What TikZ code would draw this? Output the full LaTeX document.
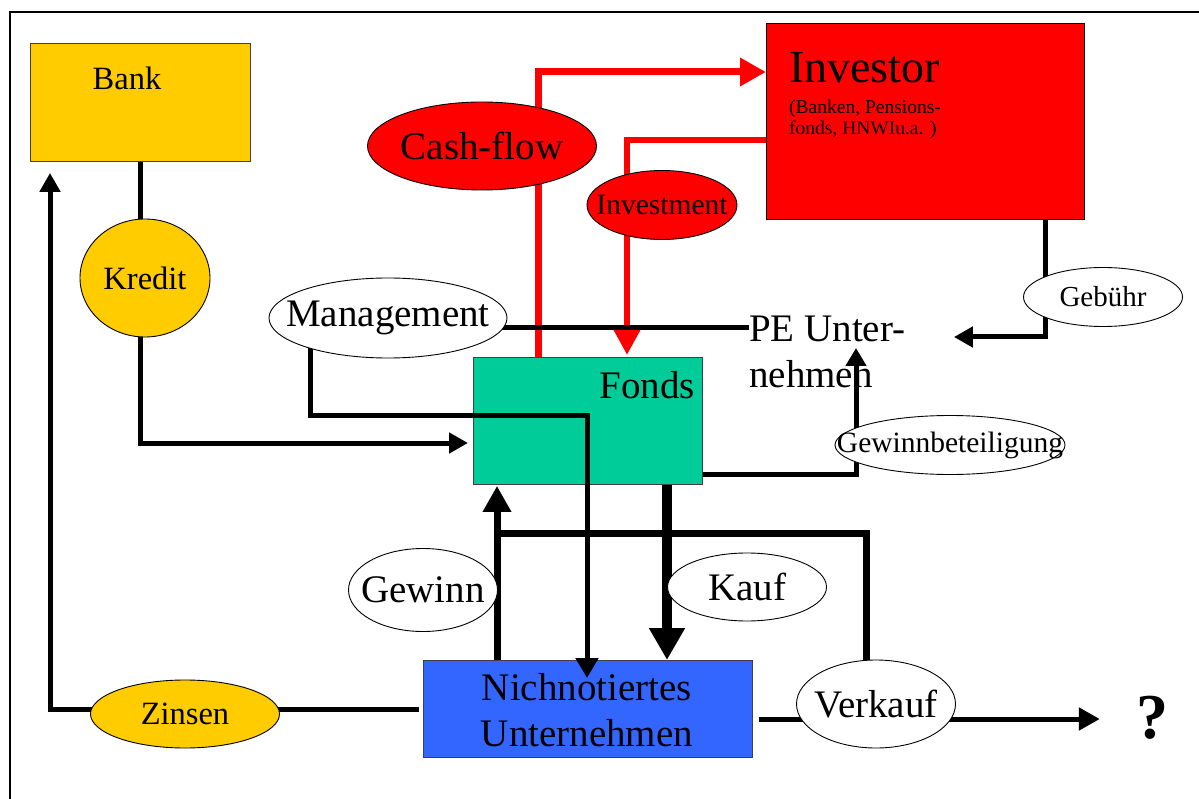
\documentclass[tikz,border=0pt]{standalone}
\usepackage{fontspec}
\setmainfont{Liberation Serif}
\usetikzlibrary{arrows.meta,shapes.geometric}

\definecolor{bankgold}{HTML}{FFCC00}
\definecolor{invred}{HTML}{FF0000}
\definecolor{fondsgreen}{HTML}{00CC99}
\definecolor{firmblue}{HTML}{3366FF}
\definecolor{pegreen}{HTML}{CCFFCC}

\pgfdeclarelayer{back}
\pgfdeclarelayer{lines}
\pgfdeclarelayer{front}
\pgfsetlayers{back,main,lines,front}

\newcommand{\fs}[1]{\fontsize{#1}{1.18\dimexpr#1pt\relax}\selectfont}

\tikzset{
  box/.style={draw=black!75, line width=0.9pt, inner sep=0pt, anchor=north west},
  oval/.style={ellipse, draw=black, line width=0.9pt, inner sep=0pt},
  lbl/.style={inner sep=0pt, font=\fs{39}},
  conn/.style={line width=5pt},
  heavy/.style={line width=7pt},
  money/.style={draw=invred, line width=7pt},
  tipS/.style={-{Triangle[length=19pt,width=20pt]}},
  tipR/.style={-{Triangle[length=26pt,width=27pt]}},
  tipL/.style={-{Triangle[length=32pt,width=34pt]}},
}

\begin{document}
\begin{tikzpicture}[x=1pt,y=-1pt]
\useasboundingbox (0,0) rectangle (1199,799);
\clip (0,0) rectangle (1199,799);
\fill[white] (0,0) rectangle (1199,799);

% outer frame (runs past the right and bottom edges)
\draw[line width=2pt] (10,830) -- (10,12) -- (1230,12);

% PE company area
\begin{pgfonlayer}{back}
  \node[box, draw=black!80, fill=pegreen, rounded corners=32pt,
        minimum width=725pt, minimum height=235pt] (pe) at (225,268) {};
\end{pgfonlayer}

% boxes
\node[box, fill=bankgold, minimum width=220pt, minimum height=118pt] (bank) at (30,43) {};
\node[lbl, font=\fs{32.5}, anchor=base] (banktext) at (127,90) {Bank};

\node[box, draw=black, fill=invred, minimum width=318pt, minimum height=196pt] (invest) at (766,23) {};
\node[lbl, font=\fs{46}, anchor=base west] (investtext) at (789,83) {Investor};
\node[lbl, font=\fs{19.5}, anchor=base west, align=left] (investsub) at (789,135)
  {(Banken, Pensions-\\[-1.5pt]fonds, HNWIu.a. )};

\node[box, fill=fondsgreen, minimum width=229pt, minimum height=127pt] (fonds) at (473,357) {};
\node[lbl, anchor=base east] (fondstext) at (695,399) {Fonds};

\node[box, fill=firmblue, minimum width=329pt, minimum height=97pt] (nich) at (423,660) {};
\node[lbl, align=center, anchor=base] (nichtext) at (587,746) {Nichnotiertes\\[-1pt]Unternehmen};

\node[lbl, align=left, anchor=base west] (petext) at (749,387) {PE Unter-\\[-0.5pt]nehmen};

\node[inner sep=0pt, font=\fs{64}\bfseries, anchor=base] (qmark) at (1152,738) {?};

% labels on the flows (text set as centred labels so the ellipse keeps its size)
\begin{pgfonlayer}{front}
  \node[oval, fill=bankgold, minimum width=130pt, minimum height=118pt,
        label={[font=\fs{32.5}]center:Kredit}] (kredit) at (145,278) {};
  \node[oval, fill=white, minimum width=238pt, minimum height=80pt,
        label={[font=\fs{39}]center:Management}] (mgmt) at (388,318) {};
  \node[oval, fill=invred, minimum width=229pt, minimum height=88pt,
        label={[font=\fs{39}]center:Cash-flow}] (cash) at (482,146) {};
  \node[oval, fill=invred, minimum width=150pt, minimum height=69pt,
        label={[font=\fs{29.5}]center:Investment}] (invm) at (662,205) {};
  \node[oval, fill=white, minimum width=159pt, minimum height=59pt,
        label={[font=\fs{29}]center:Gebühr}] (fee) at (1103,297) {};
  \node[oval, fill=white, minimum width=230pt, minimum height=59pt,
        label={[font=\fs{29.5}]center:Gewinnbeteiligung}] (share) at (950,445) {};
  \node[oval, fill=white, minimum width=149pt, minimum height=83pt,
        label={[font=\fs{39}]center:Gewinn}] (gain) at (423,590) {};
  \node[oval, fill=white, minimum width=159pt, minimum height=68pt,
        label={[font=\fs{39}]center:Kauf}] (buy) at (747,587) {};
  \node[oval, fill=bankgold, minimum width=189pt, minimum height=68pt,
        label={[font=\fs{32.5}]center:Zinsen}] (zins) at (185,714) {};
  \node[oval, fill=white, minimum width=159pt, minimum height=88pt,
        label={[font=\fs{39}]center:Verkauf}] (sale) at (876,704) {};
\end{pgfonlayer}

% connectors
\begin{pgfonlayer}{lines}
  % money flows between fund and investors
  \draw[money, tipR] (fonds.north -| 538,0) -- (538,72) -- (invest.west |- 0,72);
  \draw[money, line width=6.5pt, -{Triangle[length=25pt,width=25pt]}]
       (invest.west |- 0,140) -- (627,140) -- ([yshift=2pt]fonds.north -| 627,0);

  % credit from the bank
  \draw[conn] (bank.south) -- (bank.south |- kredit.center);
  \draw[conn, tipS, shorten >=5pt] (bank.south |- kredit.center) |- (fonds.west |- 0,443);

  % management
  \draw[conn] ([yshift=-10pt]mgmt.center) -- (petext.west |- 0,328);
  \draw[conn, -{Triangle[length=20pt,width=22pt]}]
       ([xshift=-78pt]mgmt.center) |- (587,415) -- ([yshift=-18pt]nich.north -| 587,0);

  % fee from the investor
  \draw[conn, tipS, shorten >=3pt] (invest.south -| 1045,0) |- (pe.east |- 0,337);

  % profit share
  \draw[conn, -{Triangle[length=18pt,width=20pt]}] (fonds.east |- 0,474) -| (856,348);

  % purchase, gain and sale
  \draw[line width=10pt, tipL] (fonds.south -| 667,0) -- (nich.north -| 667,0);
  \draw[heavy, tipR] (nich.north -| 497,0) -- ([yshift=-1pt]fonds.south -| 497,0);
  \draw[heavy] (sale.center -| 866,0) |- (497,533);
  \draw[conn, -{Triangle[length=21pt,width=22pt]}] ([xshift=6pt]nich.east |- 0,719) -- ([xshift=-36pt]qmark.west |- 0,719);

  % interest paid to the bank
  \draw[conn, tipS] ([xshift=-4pt]nich.west |- 0,709) -| ([xshift=20pt,yshift=-11pt]bank.south west);
\end{pgfonlayer}
\end{tikzpicture}
\end{document}
